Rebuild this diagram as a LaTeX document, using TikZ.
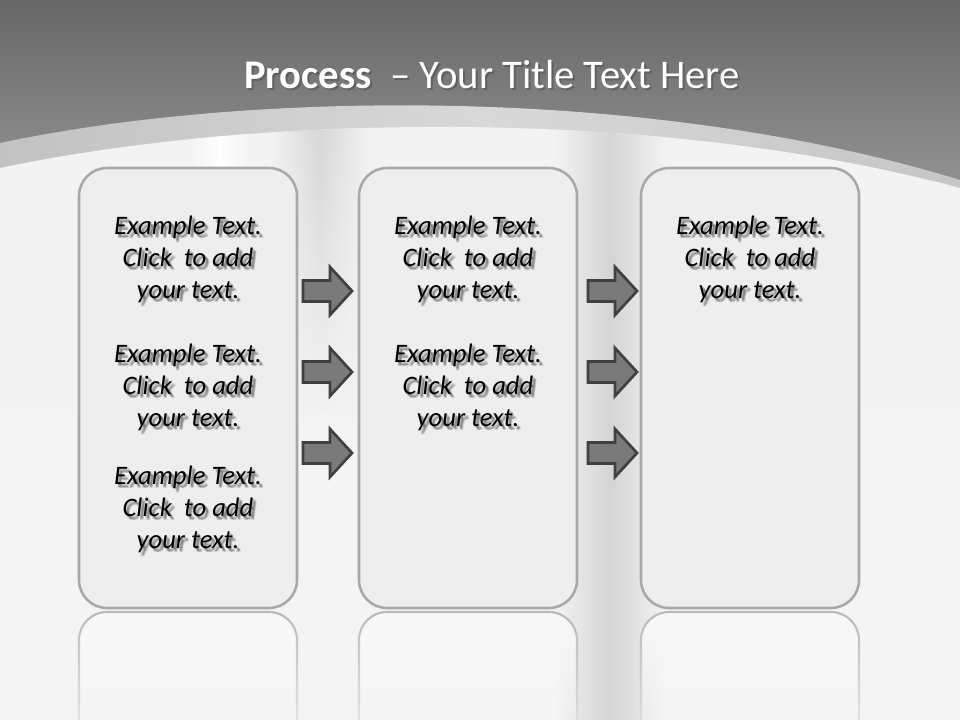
\documentclass[tikz,border=0pt]{standalone}
\usepackage{fontspec}
\setmainfont{Carlito}
\usetikzlibrary{fadings,calc}
\tikzfading[name=fadedn, top color=transparent!0, bottom color=transparent!100]
\definecolor{topA}{HTML}{676767}
\definecolor{topB}{HTML}{959595}
\definecolor{bandL}{HTML}{C2C2C2}
\definecolor{bandM}{HTML}{D8D8D8}
\definecolor{bandR}{HTML}{C6C6C6}
\definecolor{wA}{HTML}{F3F3F3}
\definecolor{wB}{HTML}{F4F4F4}
\definecolor{boxfill}{HTML}{EEEEEE}
\definecolor{boxline}{HTML}{A8A8A8}
\definecolor{arrfill}{HTML}{7A7A7A}
\definecolor{arrline}{HTML}{404040}
\definecolor{strip}{HTML}{D4D4D4}
\tikzset{
  box/.style={draw=boxline, line width=1.9pt, fill=boxfill, rounded corners=21pt,
    minimum width=163.5pt, minimum height=330pt, inner sep=0pt},
  refl/.style={draw=boxline!80, line width=1.6pt, fill=boxfill!70!black!8, rounded corners=21pt, path fading=fadedn},
  arrowshape/.style={draw=arrline, line width=2pt, fill=arrfill, line join=miter},
  txt/.style={font=\fontsize{20}{24}\selectfont\itshape, align=center, text=black, inner sep=0pt},
  txtsh/.style={txt, text=black, text opacity=0.11},
  ttl/.style={font=\fontsize{30.5}{36}\selectfont, text=white, inner sep=0pt}
}
\newcommand\whitearea{(0,168) .. controls (250,115) and (650,105) .. (960,188) -- (960,720) -- (0,720) -- cycle}
\newcommand\ptext[3]{%
  \foreach \d/\e in {1.5/1.5,2.5/2.5,3.5/3,3/3.5,2.5/4,4/4} {\node[txtsh] at ($(#2)+(\d,\e)$) {#3};}
  \node[txt] (#1) at (#2) {#3};}
\newcommand\parrow[3]{% name, x, y
  \coordinate (#1) at (#2,#3);
  \draw[arrowshape] ($(#1)+(0,-10.5)$) -- ($(#1)+(27,-10.5)$) -- ($(#1)+(27,-24)$) -- ($(#1)+(49,0)$)
    -- ($(#1)+(27,24)$) -- ($(#1)+(27,10.5)$) -- ($(#1)+(0,10.5)$) -- cycle;}
\begin{document}
\begin{tikzpicture}[x=0.75pt,y=-0.75pt]
\useasboundingbox (0,0) rectangle (960,720);
% background
\shade[top color=topA, bottom color=topB] (0,0) rectangle (960,200);
\shade[left color=bandL, right color=bandR, middle color=bandM]
  (0,143) .. controls (250,90) and (650,85) .. (960,180) -- (960,720) -- (0,720) -- cycle;
\shade[top color=wA, bottom color=wB] \whitearea;
\begin{scope}
  \clip \whitearea;
  \shade[left color=wA, right color=wA, middle color=strip] (555,100) rectangle (665,720);
  \shade[left color=wA, right color=wA, middle color=strip, path fading=fadedn] (270,100) rectangle (370,420);
  \shade[left color=wA, right color=wA, middle color=white] (190,100) rectangle (250,260);
\end{scope}
% reflections
\draw[refl] (79,760) -- (79,612) -- (297,612) -- (297,760);
\draw[refl] (359,760) -- (359,612) -- (577,612) -- (577,760);
\draw[refl] (641,760) -- (641,612) -- (859,612) -- (859,760);
% boxes
\node[box] (b1) at (188,388) {};
\node[box] (b2) at (468,388) {};
\node[box] (b3) at (750,388) {};
% arrows
\parrow{a1}{303}{291}
\parrow{a2}{303}{372}
\parrow{a3}{303}{453}
\parrow{a4}{588}{291}
\parrow{a5}{588}{372}
\parrow{a6}{588}{453}
% texts
\ptext{t11}{188,259}{Example Text.\\Click\ \ to add\\your text.}
\ptext{t12}{188,387}{Example Text.\\Click\ \ to add\\your text.}
\ptext{t13}{188,509}{Example Text.\\Click\ \ to add\\your text.}
\ptext{t21}{468,259}{Example Text.\\Click\ \ to add\\your text.}
\ptext{t22}{468,387}{Example Text.\\Click\ \ to add\\your text.}
\ptext{t31}{750,259}{Example Text.\\Click\ \ to add\\your text.}
% title
\node[ttl, text=black, text opacity=0.2] at (494,77) {\textbf{Process}\ \ – Your Title Text Here};
\node[ttl] (title) at (492,75) {\textbf{Process}\ \ – Your Title Text Here};
\end{tikzpicture}
\end{document}
